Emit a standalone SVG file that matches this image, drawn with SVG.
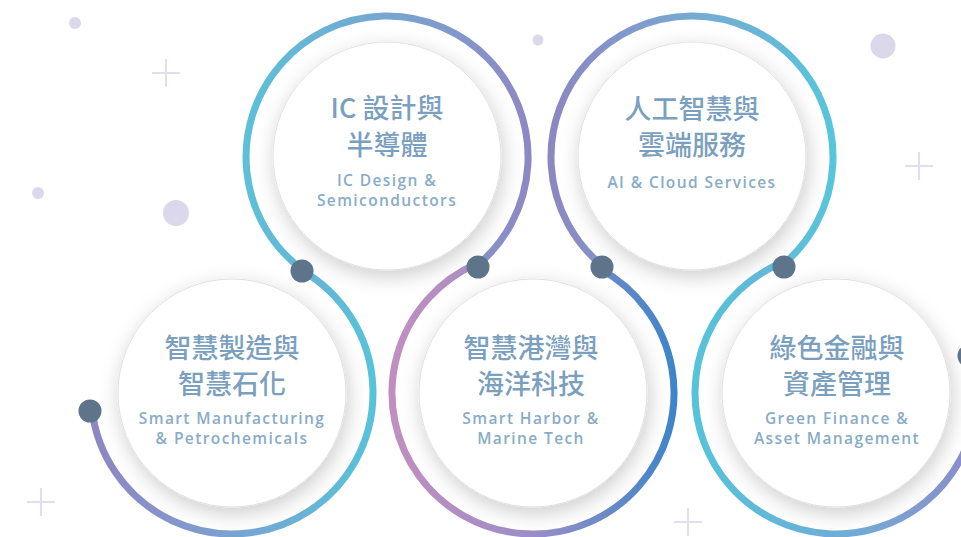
<svg xmlns="http://www.w3.org/2000/svg" width="961" height="537" viewBox="0 0 961 537">
  <style>
    .disk { fill: #ffffff; stroke: #e1e1e1; stroke-width: 1; }
    .zh { font-family: "Noto Sans CJK TC", "Noto Sans CJK SC", sans-serif; font-size: 27px; font-weight: 500; fill: #7b9fbe; text-anchor: middle; }
    .en { font-family: "Open Sans", "Liberation Sans", sans-serif; font-size: 15.5px; font-weight: 600; letter-spacing: 1.4px; fill: #88acc8; text-anchor: middle; }
    .ring { fill: none; stroke-width: 7; stroke-linecap: round; }
    .dot { fill: #5e748a; }
    .deco { fill: #dcd8ec; }
    .plus { stroke: #e2deee; stroke-width: 2; fill: none; }
  </style>
  <defs>
    <filter id="shadow" x="-30%" y="-30%" width="160%" height="160%">
      <feDropShadow dx="2" dy="6" stdDeviation="10" flood-color="#000" flood-opacity="0.2"/>
    </filter>
    <linearGradient id="g1" gradientUnits="userSpaceOnUse" x1="90" y1="0" x2="375" y2="0">
      <stop offset="0" stop-color="#8e85c2"/>
      <stop offset="0.45" stop-color="#7e9fd0"/>
      <stop offset="1" stop-color="#56c3d9"/>
    </linearGradient>
    <linearGradient id="g2" gradientUnits="userSpaceOnUse" x1="246" y1="0" x2="528" y2="0">
      <stop offset="0" stop-color="#5bc0d8"/>
      <stop offset="0.5" stop-color="#78a6d0"/>
      <stop offset="1" stop-color="#8d88c4"/>
    </linearGradient>
    <linearGradient id="g3" gradientUnits="userSpaceOnUse" x1="392" y1="0" x2="674" y2="0">
      <stop offset="0" stop-color="#c18ec0"/>
      <stop offset="0.5" stop-color="#9b8ec7"/>
      <stop offset="1" stop-color="#3d85c8"/>
    </linearGradient>
    <linearGradient id="g4" gradientUnits="userSpaceOnUse" x1="550" y1="0" x2="834" y2="0">
      <stop offset="0" stop-color="#8b87c2"/>
      <stop offset="0.5" stop-color="#77a9d2"/>
      <stop offset="1" stop-color="#57c5dc"/>
    </linearGradient>
    <linearGradient id="g5" gradientUnits="userSpaceOnUse" x1="695" y1="0" x2="977" y2="0">
      <stop offset="0" stop-color="#55c3da"/>
      <stop offset="0.55" stop-color="#70acd6"/>
      <stop offset="1" stop-color="#8d8bc8"/>
    </linearGradient>
  </defs>

  <rect width="961" height="537" fill="#ffffff"/>

  <g id="decorations">
    <circle class="deco" cx="75" cy="23" r="6"/>
    <circle class="deco" cx="38" cy="193" r="6"/>
    <circle class="deco" cx="176" cy="213" r="13"/>
    <circle class="deco" cx="538" cy="40" r="5.5"/>
    <circle class="deco" cx="883" cy="46" r="12.5"/>
    <path class="plus" d="M152 73 H180 M166 59 V87"/>
    <path class="plus" d="M905 166 H933 M919 152 V180"/>
    <path class="plus" d="M27 502 H55 M41 488 V516"/>
    <path class="plus" d="M674 522 H702 M688 508 V536"/>
  </g>

  <g id="node-mfg">
    <circle class="disk" cx="232" cy="393" r="114" filter="url(#shadow)"/>
    <text class="zh" x="232" y="358">智慧製造與</text>
    <text class="zh" x="232" y="394">智慧石化</text>
    <text class="en" x="232" y="424">Smart Manufacturing</text>
    <text class="en" x="232" y="444">&amp; Petrochemicals</text>
  </g>

  <g id="node-ic">
    <circle class="disk" cx="387" cy="156" r="114" filter="url(#shadow)"/>
    <text class="zh" x="387" y="118">IC 設計與</text>
    <text class="zh" x="387" y="155">半導體</text>
    <text class="en" x="387" y="186">IC Design &amp;</text>
    <text class="en" x="387" y="206">Semiconductors</text>
  </g>

  <g id="node-harbor">
    <circle class="disk" cx="533" cy="393" r="114" filter="url(#shadow)"/>
    <text class="zh" x="531" y="358">智慧港灣與</text>
    <text class="zh" x="531" y="394">海洋科技</text>
    <text class="en" x="531" y="424">Smart Harbor &amp;</text>
    <text class="en" x="531" y="444">Marine Tech</text>
  </g>

  <g id="node-ai">
    <circle class="disk" cx="692" cy="156" r="114" filter="url(#shadow)"/>
    <text class="zh" x="692" y="119">人工智慧與</text>
    <text class="zh" x="692" y="155">雲端服務</text>
    <text class="en" x="692" y="188">AI &amp; Cloud Services</text>
  </g>

  <g id="node-green">
    <circle class="disk" cx="836" cy="393" r="114" filter="url(#shadow)"/>
    <text class="zh" x="837" y="358">綠色金融與</text>
    <text class="zh" x="837" y="394">資產管理</text>
    <text class="en" x="837" y="424">Green Finance &amp;</text>
    <text class="en" x="837" y="444">Asset Management</text>
  </g>

  <g id="connectors">
    <path class="ring" stroke="url(#g1)" d="M92.1 410.7 A141 141 0 1 0 302.1 270.6"/>
    <path class="ring" stroke="url(#g2)" d="M302.7 270 A141 141 0 1 1 476.9 265.7"/>
    <path class="ring" stroke="url(#g3)" d="M476.5 263.8 A141 141 0 1 0 600.7 269.3"/>
    <path class="ring" stroke="url(#g4)" d="M602.7 266.1 A141 141 0 1 1 782.4 265.2"/>
    <path class="ring" stroke="url(#g5)" d="M782.3 262.6 A141 141 0 1 0 971.5 353.9"/>
    <circle class="dot" cx="90" cy="411" r="11.5"/>
    <circle class="dot" cx="302" cy="271" r="11.5"/>
    <circle class="dot" cx="478" cy="267" r="11.5"/>
    <circle class="dot" cx="602" cy="267" r="11.5"/>
    <circle class="dot" cx="784" cy="267" r="11.5"/>
    <circle class="dot" cx="969" cy="356" r="11.5"/>
  </g>
</svg>
